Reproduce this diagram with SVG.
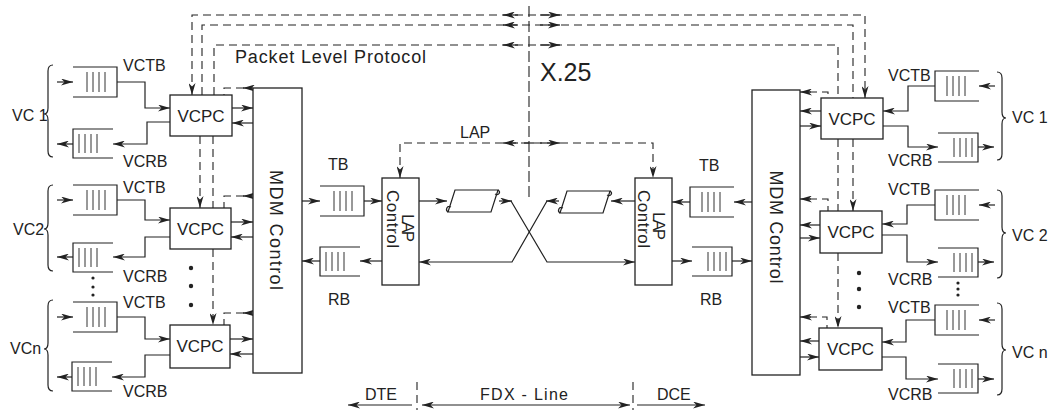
<svg xmlns="http://www.w3.org/2000/svg" xmlns:xlink="http://www.w3.org/1999/xlink" width="1050" height="411" viewBox="0 0 1050 411">
<style>
.s{fill:none;stroke:#222;stroke-width:1.2}
.d{fill:none;stroke:#222;stroke-width:1.1;stroke-dasharray:8 5}
.dv{fill:none;stroke:#222;stroke-width:1.1;stroke-dasharray:11 4}
.b{fill:#fff;stroke:#222;stroke-width:1.3}
.q{fill:none;stroke:#222;stroke-width:1.2}
.qb{fill:none;stroke:#333;stroke-width:1}
.t{font-family:"Liberation Sans",Arial,sans-serif;fill:#222}
.f16{font-size:16px}
.f17{font-size:17px}
.ae{marker-end:url(#ah)}
.as{marker-start:url(#ah)}
.dot{fill:#222}
</style>
<defs>
<marker id="ah" viewBox="0 0 12 7" refX="12" refY="3.5" markerWidth="12" markerHeight="7" markerUnits="userSpaceOnUse" orient="auto-start-reverse">
<path d="M0,0 L12,3.5 L0,7 L3.5,3.5 Z" fill="#222"/>
</marker>
<g id="qT"><path class="q" d="M0,0H44V30H0"/><path class="qb" d="M14,5V25M20,5V25M26,5V25M32,5V25"/></g>
<g id="qR"><path class="q" d="M40,0H0V29H40"/><path class="qb" d="M6,5V24M12,5V24M18,5V24M24,5V24"/></g>
<g id="tape"><path class="s" d="M8,1 L51,1 L44,23 L1,23 Z"/><path class="s" d="M1,23 C-2,21 0,16 4,18 M51,1 C54,3 52,7 48,5"/></g>
</defs>
<rect width="1050" height="411" fill="#fff"/>

<g id="connectors">
<path class="d as ae" d="M192,95 V15 H865 V98"/>
<path class="d" d="M202,95 V25 H853 V98"/>
<path class="d" d="M214,95 V45 H838 V98"/>
<path class="s ae" d="M518,15 H503"/><path class="s ae" d="M540,15 H560"/>
<path class="s ae" d="M518,25 H503"/><path class="s ae" d="M540,25 H560"/>
<path class="s ae" d="M518,45 H503"/><path class="s ae" d="M540,45 H560"/>
<path class="dv" d="M529,6 V197"/>
<path class="d as ae" d="M400,178 V143 H653 V178"/>
<path class="s ae" d="M518,143 H503"/><path class="s ae" d="M540,143 H560"/>
<path class="s" d="M524,143 H534"/>
<path class="s ae" d="M57,82 H73"/>
<path class="s ae" d="M117,82 H145 V108 H170"/>
<path class="s ae" d="M170,122 H147 V144 H113"/>
<path class="s ae" d="M73,144 H57"/>
<path class="s ae" d="M57,200 H73"/>
<path class="s ae" d="M117,200 H145 V220 H170"/>
<path class="s ae" d="M170,237 H145 V257 H113"/>
<path class="s ae" d="M73,257 H57"/>
<path class="s ae" d="M57,317 H73"/>
<path class="s ae" d="M117,317 H145 V339 H170"/>
<path class="s ae" d="M170,355 H145 V377 H112"/>
<path class="s ae" d="M72,377 H57"/>
<path class="s ae" d="M232,108 H253"/><path class="s ae" d="M253,123 H232"/>
<path class="s ae" d="M231,222 H253"/><path class="s ae" d="M253,237 H231"/>
<path class="s ae" d="M230,339 H253"/><path class="s ae" d="M253,354 H230"/>
<path class="d" d="M244,88 H224 V95"/><path class="s ae" d="M253,88 H243"/>
<path class="d" d="M244,196 H224 V208"/><path class="s ae" d="M253,196 H243"/>
<path class="d" d="M244,313 H224 V325"/><path class="s ae" d="M253,313 H243"/>
<path class="d ae" d="M200,136 V208"/>
<path class="d" d="M213,136 V208"/>
<path class="d ae" d="M213,249 V325"/>
<path class="s ae" d="M821,111 H800"/><path class="s ae" d="M800,126 H821"/>
<path class="s ae" d="M820,225 H800"/><path class="s ae" d="M800,238 H820"/>
<path class="s ae" d="M819,341 H800"/><path class="s ae" d="M800,357 H819"/>
<path class="d" d="M809,92 H828 V98"/><path class="s ae" d="M811,92 H800"/>
<path class="d" d="M809,199 H828 V211"/><path class="s ae" d="M811,199 H800"/>
<path class="d" d="M809,317 H827 V328"/><path class="s ae" d="M811,317 H800"/>
<path class="d" d="M838,139 V211"/>
<path class="d ae" d="M853,139 V211"/>
<path class="d ae" d="M838,253 V328"/>
<path class="s ae" d="M995,86 H979"/>
<path class="s ae" d="M935,86 H908 V111 H883"/>
<path class="s ae" d="M883,126 H908 V147 H938"/>
<path class="s ae" d="M978,147 H994"/>
<path class="s ae" d="M995,205 H979"/>
<path class="s ae" d="M935,205 H907 V224 H882"/>
<path class="s ae" d="M882,235 H907 V262 H938"/>
<path class="s ae" d="M978,262 H994"/>
<path class="s ae" d="M995,320 H979"/>
<path class="s ae" d="M935,320 H906 V342 H882"/>
<path class="s ae" d="M882,357 H906 V379 H938"/>
<path class="s ae" d="M978,379 H994"/>
<path class="s ae" d="M302,201 H320"/>
<path class="s ae" d="M364,201 H382"/>
<path class="s ae" d="M382,261 H360"/>
<path class="s ae" d="M320,261 H302"/>
<path class="s ae" d="M419,201 H447"/>
<path class="s ae" d="M499,201 H512"/>
<path class="s ae" d="M511,201 L547,262 H635"/>
<path class="s ae" d="M635,201 H611"/>
<path class="s ae" d="M559,201 H546"/>
<path class="s ae" d="M547,201 L512,262 H419"/>
<path class="s ae" d="M752,202 H734"/>
<path class="s ae" d="M690,202 H672"/>
<path class="s ae" d="M672,261 H692"/>
<path class="s ae" d="M732,261 H752"/>
<path class="s ae" d="M412,405 H348"/>
<path class="s as ae" d="M422,405 H630"/>
<path class="s ae" d="M637,405 H705"/>
<path class="d" d="M417,382 V410"/>
<path class="d" d="M633,382 V410"/>
</g>

<g id="labels-top">
<text class="t" x="235" y="63" font-size="18" textLength="191" lengthAdjust="spacing">Packet Level Protocol</text>
<text class="t" x="540" y="81" font-size="25">X.25</text>
<text class="t f16" x="460" y="138">LAP</text>
<text class="t f16" x="365" y="400">DTE</text>
<text class="t f16" x="480" y="400" textLength="88" lengthAdjust="spacing">FDX - Line</text>
<text class="t f16" x="657" y="400">DCE</text>
</g>

<g id="mdm-left"><rect class="b" x="253" y="88" width="49" height="285"/>
<text class="t" font-size="18" text-anchor="middle" transform="translate(270,230) rotate(90)" textLength="120" lengthAdjust="spacing">MDM Control</text></g>
<g id="mdm-right"><rect class="b" x="752" y="90" width="48" height="285"/>
<text class="t" font-size="18" text-anchor="middle" transform="translate(770,227) rotate(90)" textLength="113" lengthAdjust="spacing">MDM Control</text></g>

<g id="lap-left"><rect class="b" x="382" y="178" width="37" height="107"/>
<text class="t" font-size="17" text-anchor="middle" transform="translate(402,228) rotate(90)" textLength="28" lengthAdjust="spacing">LAP</text>
<text class="t" font-size="17" text-anchor="middle" transform="translate(387,219) rotate(90)" textLength="58" lengthAdjust="spacing">Control</text></g>
<g id="lap-right"><rect class="b" x="635" y="178" width="37" height="107"/>
<text class="t" font-size="17" text-anchor="middle" transform="translate(653,226) rotate(90)" textLength="28" lengthAdjust="spacing">LAP</text>
<text class="t" font-size="17" text-anchor="middle" transform="translate(638,219) rotate(90)" textLength="58" lengthAdjust="spacing">Control</text></g>

<g id="tape-left"><use xlink:href="#tape" href="#tape" transform="translate(447,189)"/></g>
<g id="tape-right"><use xlink:href="#tape" href="#tape" transform="translate(559,190)"/></g>

<g id="tb-left"><use href="#qT" xlink:href="#qT" transform="translate(320,186)"/><text class="t f16" x="328" y="170">TB</text></g>
<g id="rb-left"><use href="#qR" xlink:href="#qR" transform="translate(320,247)"/><text class="t f16" x="328" y="305">RB</text></g>
<g id="tb-right"><use href="#qT" xlink:href="#qT" transform="translate(734,187) scale(-1,1)"/><text class="t f16" x="699" y="171">TB</text></g>
<g id="rb-right"><use href="#qR" xlink:href="#qR" transform="translate(732,247) scale(-1,1)"/><text class="t f16" x="700" y="305">RB</text></g>

<g id="vcpc-l1"><rect class="b" x="170" y="95" width="62" height="41"/><text class="t f17" x="201" y="121.5" text-anchor="middle">VCPC</text></g>
<g id="vcpc-l2"><rect class="b" x="170" y="208" width="61" height="41"/><text class="t f17" x="200.5" y="234.5" text-anchor="middle">VCPC</text></g>
<g id="vcpc-ln"><rect class="b" x="170" y="325" width="60" height="43"/><text class="t f17" x="200" y="352" text-anchor="middle">VCPC</text></g>
<g id="vcpc-r1"><rect class="b" x="821" y="98" width="62" height="41"/><text class="t f17" x="852" y="124.5" text-anchor="middle">VCPC</text></g>
<g id="vcpc-r2"><rect class="b" x="820" y="211" width="62" height="42"/><text class="t f17" x="851" y="238" text-anchor="middle">VCPC</text></g>
<g id="vcpc-rn"><rect class="b" x="819" y="328" width="63" height="42"/><text class="t f17" x="850.5" y="355" text-anchor="middle">VCPC</text></g>

<g id="vc1-left">
<use href="#qT" xlink:href="#qT" transform="translate(73,67)"/><use href="#qR" xlink:href="#qR" transform="translate(73,129)"/>
<text class="t f16" x="123" y="71">VCTB</text><text class="t f16" x="123" y="167">VCRB</text>
<path class="s" d="M53,65 Q48,65 48,71 V108 Q48,114 44,114 Q48,114 48,120 V151 Q48,157 53,157"/>
<text class="t f16" x="12" y="121">VC 1</text></g>
<g id="vc2-left">
<use href="#qT" xlink:href="#qT" transform="translate(73,185)"/><use href="#qR" xlink:href="#qR" transform="translate(73,243)"/>
<text class="t f16" x="123" y="193">VCTB</text><text class="t f16" x="123" y="282">VCRB</text>
<path class="s" d="M53,185 Q48,185 48,191 V223 Q48,229 44,229 Q48,229 48,235 V265 Q48,271 53,271"/>
<text class="t f16" x="13" y="235">VC2</text></g>
<g id="vcn-left">
<use href="#qT" xlink:href="#qT" transform="translate(73,302)"/><use href="#qR" xlink:href="#qR" transform="translate(72,362)"/>
<text class="t f16" x="123" y="308">VCTB</text><text class="t f16" x="123" y="397">VCRB</text>
<path class="s" d="M53,300 Q48,300 48,306 V343 Q48,349 44,349 Q48,349 48,355 V385 Q48,391 53,391"/>
<text class="t f16" x="10" y="354">VCn</text></g>

<g id="vc1-right">
<use href="#qT" xlink:href="#qT" transform="translate(979,71) scale(-1,1)"/><use href="#qR" xlink:href="#qR" transform="translate(978,133) scale(-1,1)"/>
<text class="t f16" x="888" y="81">VCTB</text><text class="t f16" x="888" y="166">VCRB</text>
<path class="s" d="M997,72 Q1002,72 1002,78 V112 Q1002,118 1006,118 Q1002,118 1002,124 V154 Q1002,160 997,160"/>
<text class="t f16" x="1012" y="123">VC 1</text></g>
<g id="vc2-right">
<use href="#qT" xlink:href="#qT" transform="translate(979,190) scale(-1,1)"/><use href="#qR" xlink:href="#qR" transform="translate(978,248) scale(-1,1)"/>
<text class="t f16" x="888" y="195">VCTB</text><text class="t f16" x="888" y="285">VCRB</text>
<path class="s" d="M997,190 Q1002,190 1002,196 V227 Q1002,233 1006,233 Q1002,233 1002,239 V272 Q1002,278 997,278"/>
<text class="t f16" x="1012" y="241">VC 2</text></g>
<g id="vcn-right">
<use href="#qT" xlink:href="#qT" transform="translate(979,305) scale(-1,1)"/><use href="#qR" xlink:href="#qR" transform="translate(978,364) scale(-1,1)"/>
<text class="t f16" x="888" y="313">VCTB</text><text class="t f16" x="888" y="400">VCRB</text>
<path class="s" d="M997,303 Q1002,303 1002,309 V344 Q1002,350 1006,350 Q1002,350 1002,356 V389 Q1002,395 997,395"/>
<text class="t f16" x="1012" y="358">VC n</text></g>

<g id="ellipses">
<circle class="dot" cx="191" cy="268" r="2.2"/><circle class="dot" cx="191" cy="286" r="2.2"/><circle class="dot" cx="191" cy="305" r="2.2"/>
<circle class="dot" cx="859" cy="273" r="2.2"/><circle class="dot" cx="859" cy="289" r="2.2"/><circle class="dot" cx="859" cy="307" r="2.2"/>
<circle class="dot" cx="93" cy="278" r="1.6"/><circle class="dot" cx="93" cy="287" r="1.6"/><circle class="dot" cx="93" cy="295" r="1.6"/>
<circle class="dot" cx="958" cy="283" r="1.6"/><circle class="dot" cx="958" cy="289" r="1.6"/><circle class="dot" cx="958" cy="295" r="1.6"/>
</g>
</svg>
